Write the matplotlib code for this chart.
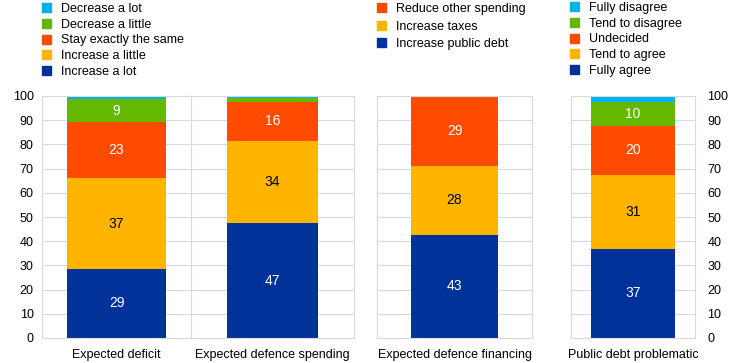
import numpy as np
import matplotlib.pyplot as plt
from matplotlib.patches import Patch

plt.rcParams['font.family'] = ['Liberation Sans', 'DejaVu Sans']
plt.rcParams['font.size'] = 8.5

# -- data (bottom to top of each stack) --
cat_deficit = "Expected deficit"
cat_spending = "Expected defence spending"
cat_financing = "Expected defence financing"
cat_debt = "Public debt problematic"

labels_change = ["Increase a lot", "Increase a little", "Stay exactly the same",
                 "Decrease a little", "Decrease a lot"]
deficit = [28.6, 37.4, 23.1, 9.5, 1.4]
spending = [47.4, 33.9, 16.4, 1.6, 0.7]
deficit_lbl = [29, 37, 23, 9, None]
spending_lbl = [47, 34, 16, None, None]

labels_fin = ["Increase public debt", "Increase taxes", "Reduce other spending"]
financing = [42.7, 28.4, 28.9]
financing_lbl = [43, 28, 29]

labels_agree = ["Fully agree", "Tend to agree", "Undecided", "Tend to disagree", "Fully disagree"]
debt = [36.8, 30.7, 20.3, 9.7, 2.5]
debt_lbl = [37, 31, 20, 10, None]

colors = ["#003299", "#FFB400", "#FF4B00", "#65B800", "#00B1EA"]
txtcol = ["white", "black", "white", "white", "white"]

fig = plt.figure(figsize=(7.45, 3.63), dpi=100)
W, H = 745, 363
ybot, ytop = 338, 96

def make_ax(x0, x1):
    return fig.add_axes([x0 / W, (H - ybot) / H, (x1 - x0) / W, (ybot - ytop) / H])

def stack(ax, cat, vals, lbls, width):
    bottom = 0
    for i, v in enumerate(vals):
        ax.bar(0, v, width, bottom=bottom, color=colors[i], zorder=2)
        if lbls[i] is not None:
            ax.text(0, bottom + v / 2, str(lbls[i]), ha='center', va='center',
                    color=txtcol[i], fontsize=10)
        bottom += v
    ax.set_xlim(-0.5, 0.5)
    ax.set_ylim(0, 100)
    ax.set_yticks(np.arange(0, 101, 10))
    ax.set_xticks([0])
    ax.set_xticklabels([cat], fontsize=9)
    ax.grid(axis='y', color='#d9d9d9', lw=0.8, zorder=0)
    for s in ax.spines.values():
        s.set_color('#d9d9d9')
    ax.tick_params(length=0, labelsize=9)
    ax.tick_params(axis='x', pad=8)
    ax.tick_params(axis='y', pad=6)

ax1 = make_ax(42, 191)
stack(ax1, cat_deficit, deficit, deficit_lbl, 99 / 149)
ax2 = make_ax(191, 354)
stack(ax2, cat_spending, spending, spending_lbl, 91 / 163)
ax2.set_yticklabels([])
ax3 = make_ax(377, 532)
stack(ax3, cat_financing, financing, financing_lbl, 87 / 155)
ax3.set_yticklabels([])
ax4 = make_ax(571, 695)
stack(ax4, cat_debt, debt, debt_lbl, 84 / 124)
ax4.yaxis.tick_right()
ax4.tick_params(axis='y', pad=9)

def legend(labels, n, x, y, sp):
    h = [Patch(color=colors[i]) for i in range(n)][::-1]
    fig.legend(h, labels[::-1], loc='upper left', bbox_to_anchor=(x / W, 1 - y / H),
               frameon=False, handlelength=0.75, handleheight=0.75, handletextpad=0.8,
               labelspacing=sp, borderpad=0, borderaxespad=0, fontsize=9)

legend(labels_change, 5, 42, 3, 0.3)
legend(labels_fin, 3, 377, 3, 0.45)
legend(labels_agree, 5, 570, 2, 0.3)

fig.savefig("out.png", dpi=100)
